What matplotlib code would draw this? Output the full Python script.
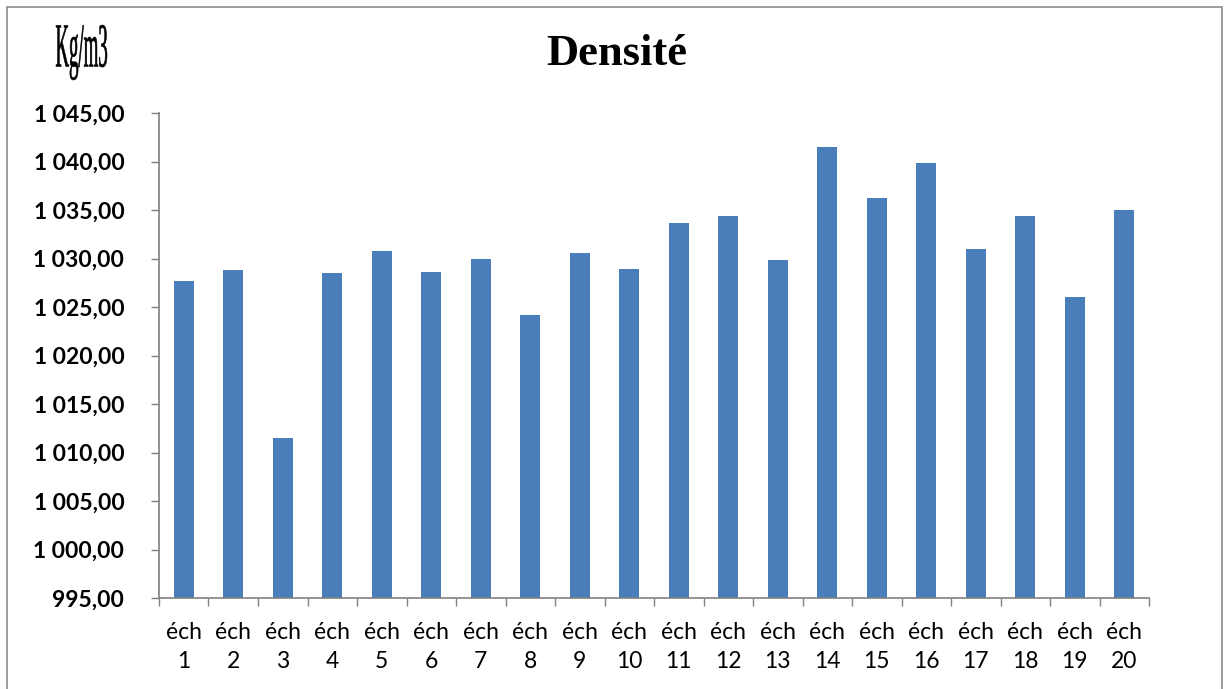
import matplotlib
matplotlib.use("Agg")
import matplotlib.pyplot as plt
from matplotlib.ticker import FuncFormatter, FixedLocator
from matplotlib.textpath import TextPath
from matplotlib.font_manager import FontProperties
from matplotlib.patches import PathPatch, Rectangle
from matplotlib.transforms import Affine2D

# Density per sample (kg/m3)
samples = [f"éch\n{i}" for i in range(1, 21)]
density = [1027.7, 1028.8, 1011.5, 1028.5, 1030.8, 1028.6, 1030.0, 1024.2,
           1030.6, 1028.9, 1033.7, 1034.4, 1029.8, 1041.5, 1036.2, 1039.8,
           1031.0, 1034.4, 1026.0, 1035.0]
y_ticks = [995, 1000, 1005, 1010, 1015, 1020, 1025, 1030, 1035, 1040, 1045]

W, H = 1227, 689
fig = plt.figure(figsize=(W / 100, H / 100), dpi=100)
fig.patch.set_facecolor("white")

ax = fig.add_axes([159 / W, 1 - 598 / H, (1149 - 159) / W, (598 - 113) / H])
x = list(range(len(samples)))
ax.bar(x, density, width=0.4, color="#4a7ebb", zorder=2)

ax.set_xlim(-0.5, len(samples) - 0.5)
ax.set_ylim(y_ticks[0], y_ticks[-1])
ax.set_yticks(y_ticks)


def fr_fmt(v, pos):
    s = f"{v:,.2f}"
    return s.replace(",", " ").replace(".", ",")


ax.yaxis.set_major_formatter(FuncFormatter(fr_fmt))
for lbl in ax.get_yticklabels():
    lbl.set_fontfamily("Lato")
    lbl.set_fontweight("bold")
    lbl.set_fontsize(16.5)
ax.tick_params(axis="y", direction="out", length=6, width=1, color="#808080",
               pad=19)

ax.set_xticks(x)
ax.set_xticklabels(samples, fontfamily="Lato", fontsize=16.5, linespacing=1.5)
ax.tick_params(axis="x", which="major", length=0, pad=17)
ax.xaxis.set_minor_locator(FixedLocator([i - 0.5 for i in range(len(samples) + 1)]))
ax.tick_params(axis="x", which="minor", direction="out", length=6, width=1,
               color="#808080")

for side in ("top", "right"):
    ax.spines[side].set_visible(False)
for side in ("left", "bottom"):
    ax.spines[side].set_color("#808080")
    ax.spines[side].set_linewidth(1.2)

fig.text(617 / W, 1 - 54 / H, "Densité", ha="center", va="center",
         fontfamily="Liberation Serif", fontweight="bold", fontsize=32)

# Condensed, tall unit label
fp = FontProperties(family="Liberation Serif")
tp = TextPath((0, 0), "Kg/m3", size=100, prop=fp)
ext = tp.get_extents()
x0, x1, y0, y1 = 56, 107, 25, 80
sx = (x1 - x0) / ext.width
sy = (y1 - y0) / ext.height
tr = Affine2D().translate(-ext.x0, -ext.y0).scale(sx, sy).translate(x0, H - y1)
path = tr.transform_path(tp)
fig.patches.append(PathPatch(path, transform=None, facecolor="black",
                             edgecolor="black", linewidth=0.4, figure=fig))

# Chart frame
fig.patches.append(Rectangle((7 / W, -0.02), (1222 - 7) / W, 1 - 7 / H + 0.02,
                             transform=fig.transFigure, fill=False,
                             edgecolor="#8c8c8c", linewidth=1.2, figure=fig))

fig.savefig("out.png", dpi=100, facecolor="white")
